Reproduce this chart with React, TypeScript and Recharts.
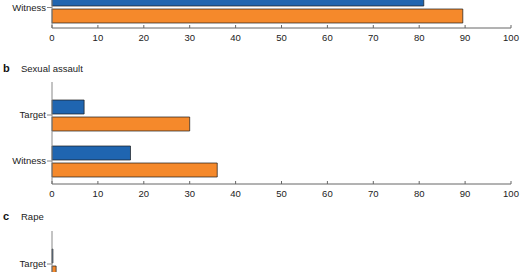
import React from 'react';
import { BarChart, Bar, XAxis, YAxis } from 'recharts';

const xTicks = [0, 10, 20, 30, 40, 50, 60, 70, 80, 90, 100];

const panelACategories = ['Witness'];
const panelABlue = [81];
const panelAOrange = [89.5];

const panelBTitle = 'Sexual assault';
const panelBCategories = ['Target', 'Witness'];
const panelBBlue = [7, 17.1];
const panelBOrange = [30, 36];

const panelCTitle = 'Rape';
const panelCCategories = ['Target'];
const panelCBlue = [0.2];
const panelCOrange = [0.9];

const FONT = '"Liberation Sans", Arial, Helvetica, sans-serif';
const BLUE = '#1f65b0';
const ORANGE = '#f5892b';

const build = (cats: string[], blue: number[], orange: number[]) =>
  cats.map((name, i) => ({ name, blue: blue[i], orange: orange[i] }));

const XTick = (props: any) => {
  const { x, y, payload } = props;
  return (
    <g>
      <line x1={x} x2={x} y1={y} y2={y - 3} stroke="#666" strokeWidth={1} />
      <text x={x} y={y + 13.3} textAnchor="middle" fontSize={9.5} fill="#222" fontFamily={FONT}>
        {payload.value}
      </text>
    </g>
  );
};

const Panel = ({ data, top, plotHeight, padTop, hideX }: any) => {
  const xh = hideX ? 0 : 22;
  return (
    <div style={{ position: 'absolute', left: 0, top, width: 520, height: plotHeight + xh }}>
      <BarChart
        width={520}
        height={plotHeight + xh}
        data={data}
        layout="vertical"
        margin={{ top: 0, right: 9, left: 0, bottom: 0 }}
        barSize={14}
        barGap={3}
      >
        <XAxis
          type="number"
          domain={[0, 100]}
          ticks={xTicks}
          interval={0}
          height={22}
          hide={!!hideX}
          tickSize={0}
          tickMargin={0}
          tickLine={false}
          axisLine={{ stroke: '#666' }}
          tick={<XTick />}
        />
        <YAxis
          type="category"
          dataKey="name"
          width={52}
          tickSize={5}
          tickMargin={1}
          axisLine={{ stroke: '#888' }}
          tickLine={{ stroke: '#888' }}
          tick={{ fontSize: 9.5, fill: '#222', fontFamily: FONT }}
          padding={{ top: padTop, bottom: 0 }}
        />
        <Bar dataKey="blue" fill={BLUE} stroke="#1a1a1a" strokeWidth={0.7} isAnimationActive={false} />
        <Bar dataKey="orange" fill={ORANGE} stroke="#1a1a1a" strokeWidth={0.7} isAnimationActive={false} />
      </BarChart>
    </div>
  );
};

export default function App() {
  return (
    <div
      style={{
        position: 'absolute',
        left: 0,
        top: 0,
        width: 520,
        height: 272,
        overflow: 'hidden',
        background: '#fff',
        fontFamily: FONT,
      }}
    >
      <Panel data={build(panelACategories, panelABlue, panelAOrange)} top={-13} plotHeight={41} padTop={0} />
      <Panel data={build(panelBCategories, panelBBlue, panelBOrange)} top={82} plotHeight={102} padTop={10} />
      <Panel data={build(panelCCategories, panelCBlue, panelCOrange)} top={231} plotHeight={56} padTop={10} hideX />
      <svg
        width={520}
        height={272}
        style={{ position: 'absolute', left: 0, top: 0, pointerEvents: 'none' }}
      >
        <text x={3} y={72} fontSize={11} fontWeight="bold" fill="#111" fontFamily={FONT}>b</text>
        <text x={21} y={72} fontSize={9.5} fill="#222" fontFamily={FONT}>{panelBTitle}</text>
        <text x={3} y={220} fontSize={11} fontWeight="bold" fill="#111" fontFamily={FONT}>c</text>
        <text x={21} y={220} fontSize={9.5} fill="#222" fontFamily={FONT}>{panelCTitle}</text>
      </svg>
    </div>
  );
}
